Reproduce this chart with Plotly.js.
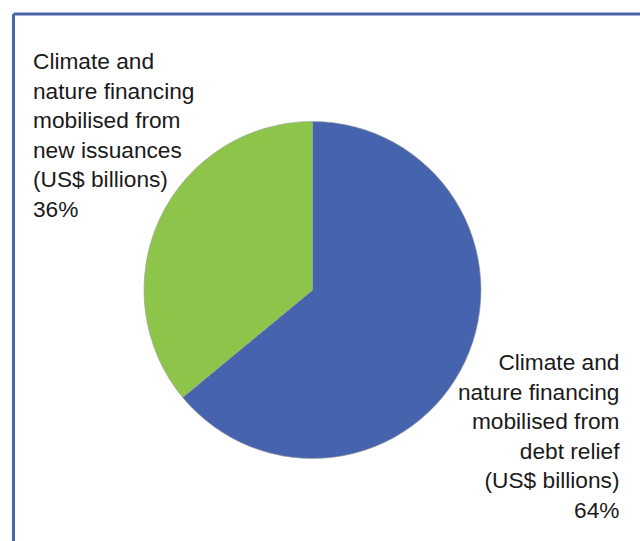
<!DOCTYPE html>
<html>
<head>
<meta charset="utf-8">
<script src="https://cdn.plot.ly/plotly-3.0.1.min.js"></script>
<style>html,body{margin:0;padding:0;background:#fff;}#chart{width:640px;height:541px;}</style>
</head>
<body>
<div id="chart"></div>
<script>
const categories = ["Climate and nature financing mobilised from debt relief (US$ billions)", "Climate and nature financing mobilised from new issuances (US$ billions)"];
const shares = [64, 36];
const colors = ["#4664ad", "#8dc54b"];
const leftLabel = "Climate and<br>nature financing<br>mobilised from<br>new issuances<br>(US$ billions)<br>" + shares[1] + "%";
const rightLabel = "Climate and<br>nature financing<br>mobilised from<br>debt relief<br>(US$ billions)<br>" + shares[0] + "%";

const W = 640, H = 541;
const cx = 312.5, cy = 290, r = 168.5;

const trace = {
  type: "pie",
  labels: categories,
  values: shares,
  sort: false,
  direction: "clockwise",
  rotation: 0,
  textinfo: "none",
  hoverinfo: "label+percent",
  marker: {colors: colors, line: {color: "#9a9a9a", width: 0.6}},
  domain: {x: [(cx - r) / W, (cx + r) / W], y: [(H - cy - r) / H, (H - cy + r) / H]},
  showlegend: false
};

const font = {family: "Liberation Sans, Arial, sans-serif", size: 22.7, color: "#1a1a1a"};

const layout = {
  width: W, height: H,
  margin: {l: 0, r: 0, t: 0, b: 0},
  paper_bgcolor: "#ffffff",
  showlegend: false,
  shapes: [
    {type: "line", xref: "paper", yref: "paper", x0: 13.5 / W, x1: 1.05, y0: 1 - 14 / H, y1: 1 - 14 / H, line: {color: "#4a64ac", width: 3}},
    {type: "line", xref: "paper", yref: "paper", x0: 13.5 / W, x1: 13.5 / W, y0: 1 - 14 / H, y1: -0.05, line: {color: "#4a64ac", width: 3}}
  ],
  annotations: [
    {xref: "paper", yref: "paper", x: 31 / W, y: 1 - 46 / H, xanchor: "left", yanchor: "top", align: "left", showarrow: false, text: leftLabel, font: font},
    {xref: "paper", yref: "paper", x: 622 / W, y: 1 - 347 / H, xanchor: "right", yanchor: "top", align: "right", showarrow: false, text: rightLabel, font: font}
  ]
};

Plotly.newPlot("chart", [trace], layout, {displayModeBar: false, staticPlot: true});
</script>
</body>
</html>
